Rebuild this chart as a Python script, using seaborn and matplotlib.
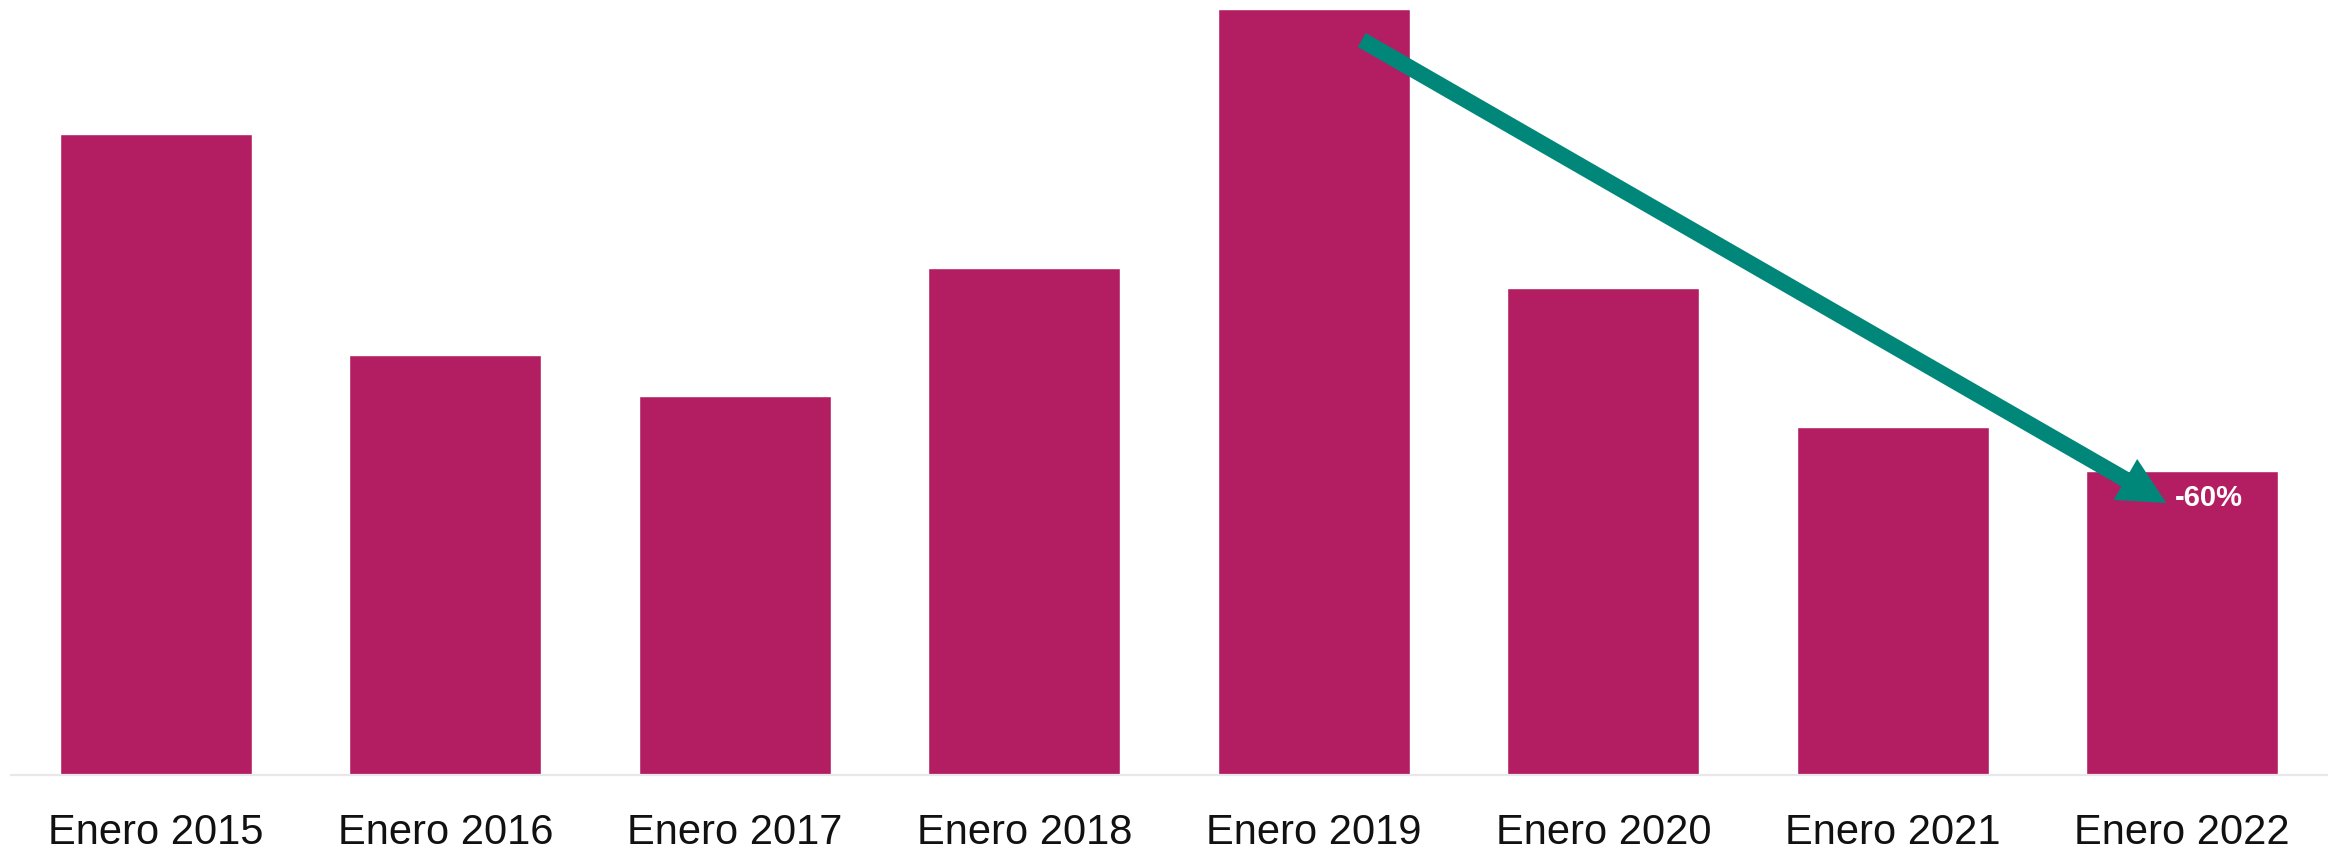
import matplotlib
matplotlib.use('Agg')
import matplotlib.pyplot as plt
import seaborn as sns
import pandas as pd

# values (arbitrary units, 2019 = tallest bar)
periodos = ['Enero 2015', 'Enero 2016', 'Enero 2017', 'Enero 2018',
            'Enero 2019', 'Enero 2020', 'Enero 2021', 'Enero 2022']
valores = [641, 420, 379, 507, 766, 487, 348, 304]
etiqueta_cambio = '-60%'

BAR_COLOR = '#B31E63'
ARROW_COLOR = '#00877A'

if __name__ == "__main__":
    sns.set_style('white')
    plt.rcParams['font.family'] = ['Liberation Sans', 'DejaVu Sans']

    fig = plt.figure(figsize=(23.31, 8.49), dpi=100)
    ax = fig.add_axes([11 / 2331, 74 / 849, 2316 / 2331, 775 / 849])

    df = pd.DataFrame({'Periodo': periodos, 'Valor': valores})
    sns.barplot(data=df, x='Periodo', y='Valor', color=BAR_COLOR,
                saturation=1, width=0.663, ax=ax)

    ax.set_xlim(-0.5, len(periodos) - 0.5)
    ax.set_ylim(0, 775)
    ax.set_xlabel('')
    ax.set_ylabel('')
    ax.set_yticks([])
    for side in ['top', 'left', 'right']:
        ax.spines[side].set_visible(False)
    ax.spines['bottom'].set_color('#e8e8ec')
    ax.spines['bottom'].set_linewidth(1.6)
    ax.tick_params(axis='x', length=0, pad=27, labelsize=30, labelcolor='#111111')

    # arrow from the 2019 bar down to the 2022 bar
    ax.annotate('', xy=(6.945, 272), xytext=(4.166, 735),
                arrowprops=dict(arrowstyle='simple,head_length=1.0,head_width=1.0,tail_width=0.34',
                                mutation_scale=34, lw=0, color=ARROW_COLOR,
                                shrinkA=0, shrinkB=0))
    ax.text(6.975, 277, etiqueta_cambio, color='white', fontsize=21,
            fontweight='bold', ha='left', va='center')

    plt.savefig('out.png', dpi=100)
